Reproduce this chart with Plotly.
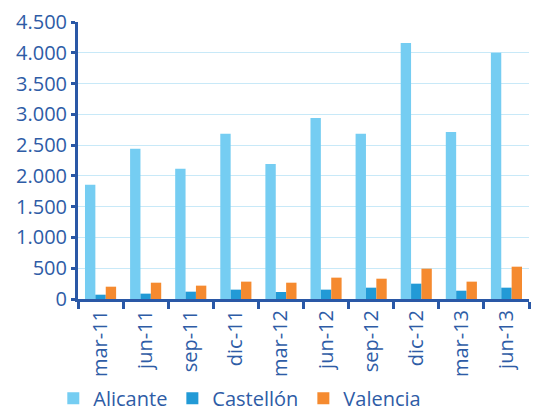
import plotly.graph_objects as go

categories = ["mar-11", "jun-11", "sep-11", "dic-11", "mar-12", "jun-12", "sep-12", "dic-12", "mar-13", "jun-13"]
alicante = [1855, 2440, 2115, 2685, 2195, 2940, 2685, 4160, 2715, 4000]
castellon = [70, 87, 119, 152, 114, 152, 184, 249, 135, 184]
valencia = [200, 265, 217, 282, 265, 347, 330, 493, 282, 525]

series = [("Alicante", alicante, "#75CDF2"), ("Castellón", castellon, "#229AD6"), ("Valencia", valencia, "#F58A2F")]

axis_color = "#2A58A6"
text_color = "#2E5CA6"
font_family = "Open Sans"

fig = go.Figure()
for name, vals, col in series:
    fig.add_trace(go.Bar(x=categories, y=vals, name=name, marker=dict(color=col, line=dict(width=0))))

fig.update_layout(
    width=533, height=414,
    margin=dict(l=78, r=4, t=22, b=115),
    paper_bgcolor="white", plot_bgcolor="white",
    barmode="group", bargap=0.31, bargroupgap=0,
    separators=",.",
    font=dict(family=font_family, color=text_color, size=20, weight=500),
    showlegend=True,
    legend=dict(orientation="h", xref="container", yref="container",
                x=0.1, xanchor="left", y=0.038, yanchor="middle",
                font=dict(size=20, color=text_color, family=font_family, weight=500),
                itemwidth=30, tracegroupgap=0, bgcolor="rgba(0,0,0,0)"),
)
fig.update_xaxes(
    automargin=False,
    showline=True, linecolor=axis_color, linewidth=3,
    ticks="outside", tickson="boundaries", ticklen=7, tickwidth=3, tickcolor=axis_color,
    tickangle=-90, tickfont=dict(size=20, color=text_color, family=font_family, weight=500),
    showgrid=False,
)
fig.update_yaxes(
    automargin=False,
    range=[0, 4500], dtick=500, tickformat=",d",
    showline=True, linecolor=axis_color, linewidth=3,
    ticks="outside", ticklen=4, tickwidth=3, tickcolor=axis_color,
    showgrid=True, gridcolor="#C8E9F8", gridwidth=1,
    zeroline=False,
    tickfont=dict(size=20, color=text_color, family=font_family, weight=500),
)

fig.write_html("out.html")
